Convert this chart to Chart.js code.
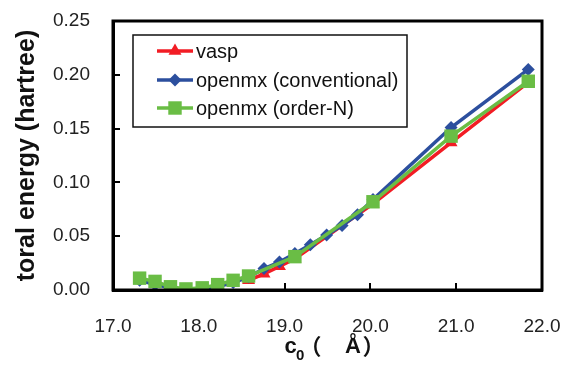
<!DOCTYPE html>
<html>
<head>
<meta charset="utf-8">
<script src="https://cdn.jsdelivr.net/npm/chart.js@4.4.1/dist/chart.umd.min.js"></script>
<style>
  html, body { margin: 0; padding: 0; background: #fff; }
  #wrap { width: 570px; height: 379px; }
</style>
</head>
<body>
<div id="wrap"><canvas id="energyChart" width="570" height="379"></canvas></div>
<script>
// lattice constant c0 (Å) and total energy (hartree)
const vaspC = [18.58, 18.76, 18.94, 19.12, 20.03, 20.94, 21.84];
const vaspE = [0.009, 0.015, 0.022, 0.029, 0.080, 0.137, 0.193];

const convC = [17.31, 17.49, 17.67, 17.85, 18.04, 18.22, 18.40, 18.58, 18.76, 18.94,
               19.12, 19.30, 19.49, 19.67, 19.85, 20.03, 20.94, 21.84];
const convE = [0.009, 0.005, 0.002, 0.000, 0.001, 0.003, 0.007, 0.012, 0.020, 0.026,
               0.034, 0.042, 0.051, 0.060, 0.070, 0.084, 0.151, 0.205];

const orderNC = [17.31, 17.49, 17.67, 17.85, 18.04, 18.22, 18.40, 18.58, 19.12, 20.03, 20.94, 21.84];
const orderNE = [0.011, 0.008, 0.003, 0.001, 0.002, 0.005, 0.009, 0.013, 0.031, 0.082, 0.143, 0.194];

const xTicks = [17, 18, 19, 20, 21, 22];
const yTicks = [0, 0.05, 0.10, 0.15, 0.20, 0.25];

const seriesNames = ['vasp', 'openmx (conventional)', 'openmx (order-N)'];

const RED = '#f21c24';
const BLUE = '#2c4f9e';
const GREEN = '#6abd45';

function toPoints(xs, ys) {
  return xs.map((x, i) => ({ x: x, y: ys[i] }));
}

// frame around the plot + boxed legend + x title with subscript
const framePlugin = {
  id: 'frame',
  afterDraw(chart) {
    const ctx = chart.ctx;
    const a = chart.chartArea;
    ctx.save();
    ctx.strokeStyle = '#000';
    ctx.lineWidth = 3;
    ctx.strokeRect(a.left, a.top, a.right - a.left, a.bottom - a.top);

    // legend box
    ctx.fillStyle = '#fff';
    ctx.fillRect(133, 35, 274, 92);
    ctx.lineWidth = 1.5;
    ctx.strokeStyle = '#111';
    ctx.strokeRect(133, 35, 274, 92);

    const rows = [51, 80, 108];
    chart.data.datasets.forEach((ds, i) => {
      const y = rows[i];
      ctx.strokeStyle = ds.borderColor;
      ctx.lineWidth = 3.5;
      ctx.beginPath();
      ctx.moveTo(157, y);
      ctx.lineTo(193, y);
      ctx.stroke();
      ctx.fillStyle = ds.pointBackgroundColor;
      ctx.strokeStyle = ds.pointBackgroundColor;
      Chart.helpers.drawPoint(ctx, {
        pointStyle: ds.pointStyle, radius: ds.pointRadius, rotation: 0, borderWidth: 0
      }, 175, y);
      ctx.fillStyle = '#111';
      ctx.font = '20px "Liberation Sans", Arial, sans-serif';
      ctx.textAlign = 'left';
      ctx.textBaseline = 'middle';
      ctx.fillText(seriesNames[i], 196, y + 1);
    });

    // x axis title: c0 (Å)
    ctx.fillStyle = '#111';
    ctx.textBaseline = 'alphabetic';
    ctx.textAlign = 'left';
    const bigFont = 'bold 22px "Liberation Sans", Arial, "Noto Sans CJK JP", sans-serif';
    const parts = [
      { t: 'c', f: bigFont, cx: 290.5, by: 353 },
      { t: '0', f: 'bold 15px "Liberation Sans", Arial, sans-serif', cx: 300, by: 360 },
      { t: '（', f: 'bold 22px "Noto Sans CJK JP", sans-serif', cx: 317, by: 354 },
      { t: 'Å', f: bigFont, cx: 353, by: 353 },
      { t: '）', f: 'bold 22px "Noto Sans CJK JP", sans-serif', cx: 366.5, by: 354 }
    ];
    parts.forEach(p => {
      ctx.font = p.f;
      const m = ctx.measureText(p.t);
      const w = m.actualBoundingBoxRight + m.actualBoundingBoxLeft;
      ctx.fillText(p.t, p.cx - w / 2 + m.actualBoundingBoxLeft, p.by);
    });
    ctx.restore();
  }
};

const ctx = document.getElementById('energyChart').getContext('2d');
new Chart(ctx, {
  type: 'scatter',
  data: {
    datasets: [{
      label: seriesNames[0],
      data: toPoints(vaspC, vaspE),
      showLine: true,
      borderColor: RED,
      backgroundColor: RED,
      pointBackgroundColor: RED,
      pointBorderWidth: 0,
      borderWidth: 3.5,
      pointStyle: 'triangle',
      pointRadius: 7.5,
      order: 2
    }, {
      label: seriesNames[1],
      data: toPoints(convC, convE),
      showLine: true,
      borderColor: BLUE,
      backgroundColor: BLUE,
      pointBackgroundColor: BLUE,
      pointBorderWidth: 0,
      borderWidth: 3.5,
      pointStyle: 'rectRot',
      pointRadius: 6.5,
      order: 1
    }, {
      label: seriesNames[2],
      data: toPoints(orderNC, orderNE),
      showLine: true,
      borderColor: GREEN,
      backgroundColor: GREEN,
      pointBackgroundColor: GREEN,
      pointBorderWidth: 0,
      borderWidth: 3.5,
      pointStyle: 'rect',
      pointRadius: 9.5,
      order: 0
    }]
  },
  options: {
    responsive: false,
    animation: false,
    devicePixelRatio: 1,
    layout: { padding: { top: 21, right: 28, left: 0, bottom: 0 } },
    plugins: {
      legend: { display: false },
      tooltip: { enabled: false }
    },
    scales: {
      x: {
        type: 'linear',
        min: 17,
        max: 22,
        afterBuildTicks: (axis) => { axis.ticks = xTicks.map(v => ({ value: v })); },
        afterFit: (axis) => {
          axis.height = 89;
          axis.paddingLeft = 0; axis.paddingRight = 0;
          axis.paddingTop = 0; axis.paddingBottom = 0;
        },
        ticks: {
          color: '#222',
          padding: 32,
          maxRotation: 0,
          font: { family: '"Liberation Sans", Arial, sans-serif', size: 19 },
          callback: (v) => Number(v).toFixed(1)
        },
        grid: { drawOnChartArea: false, drawTicks: true, tickLength: -7, color: '#000', lineWidth: 2 },
        border: { display: true, color: '#000', width: 3 }
      },
      y: {
        type: 'linear',
        min: 0,
        max: 0.25,
        afterBuildTicks: (axis) => { axis.ticks = yTicks.map(v => ({ value: v })); },
        afterFit: (axis) => {
          axis.width = 113;
          axis.paddingLeft = 0; axis.paddingRight = 0;
          axis.paddingTop = 0; axis.paddingBottom = 0;
        },
        ticks: {
          color: '#222',
          padding: 30,
          font: { family: '"Liberation Sans", Arial, sans-serif', size: 19 },
          callback: (v) => Number(v).toFixed(2)
        },
        grid: { drawOnChartArea: false, drawTicks: true, tickLength: -7, color: '#000', lineWidth: 2 },
        border: { display: true, color: '#000', width: 3 },
        title: {
          display: true,
          text: 'toral energy (hartree)',
          color: '#111',
          padding: { top: 12, bottom: 0 },
          font: { family: '"Liberation Sans", Arial, sans-serif', size: 25, weight: 'bold' }
        }
      }
    }
  },
  plugins: [framePlugin]
});
</script>
</body>
</html>
